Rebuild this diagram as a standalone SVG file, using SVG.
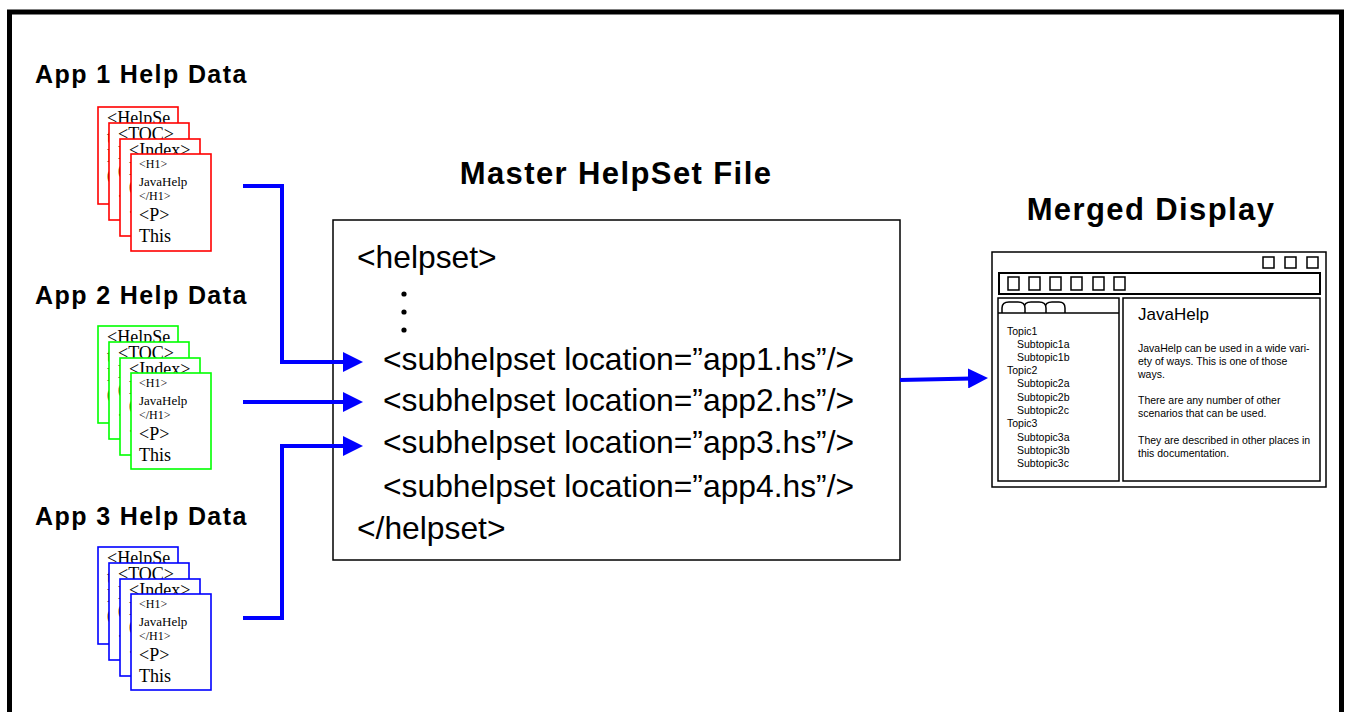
<svg xmlns="http://www.w3.org/2000/svg" width="1345" height="712" viewBox="0 0 1345 712">
<style>
.lbl{font-family:"Liberation Sans",Arial,sans-serif;font-weight:bold;fill:#000}
.app{font-size:25px;letter-spacing:1.4px}
.ttl{font-size:31px;letter-spacing:1.4px}
.code{font-family:"Liberation Sans",Arial,sans-serif;font-size:31.8px;fill:#000}
.pg{fill:#fff;stroke-width:1.6}
.red{stroke:#ff0000}.grn{stroke:#00ff00}.blu{stroke:#0000ff}
.ser{font-family:"Liberation Serif","Times New Roman",serif;fill:#000}
.big{font-size:18px}.sm{font-size:12px}.md{font-size:13px}
.win{fill:#fff;stroke:#000;stroke-width:1.5}
.ui{font-family:"Liberation Sans",Arial,sans-serif;fill:#000}
.t10{font-size:10.5px}
.conn{fill:none;stroke:#0000ff;stroke-width:4}
</style>
<defs>
<marker id="ah" markerUnits="userSpaceOnUse" markerWidth="20" markerHeight="20" refX="4" refY="10" orient="auto">
<path d="M0,0 L20,10 L0,20 Z" fill="#0000ff"/>
</marker>
</defs>
<rect x="0" y="0" width="1345" height="712" fill="#fff"/>
<rect id="frame" x="9.5" y="12" width="1332" height="712" fill="none" stroke="#000" stroke-width="5"/>

<g id="app1">
<text class="lbl app" x="35" y="83">App 1 Help Data</text>
<rect class="pg red" x="98" y="107" width="80" height="97"/>
<text class="ser big" x="107" y="124">&lt;HelpSe</text>
<text class="ser big" x="107" y="143">t</text>
<text class="ser big" x="107" y="162">l</text>
<text class="ser big" x="107" y="183">0</text>
<rect class="pg red" x="109" y="123" width="80" height="97"/>
<text class="ser big" x="118" y="140">&lt;TOC&gt;</text>
<text class="ser big" x="118" y="159">l</text>
<text class="ser big" x="118" y="178">0</text>
<text class="ser big" x="118" y="197">.</text>
<rect class="pg red" x="120" y="139" width="80" height="97"/>
<text class="ser big" x="129" y="156">&lt;Index&gt;</text>
<text class="ser big" x="129" y="175">l</text>
<text class="ser big" x="129" y="194">0</text>
<text class="ser big" x="129" y="213">.</text>
<rect class="pg red" x="131" y="154" width="80" height="97"/>
<text class="ser sm" x="139" y="168">&lt;H1&gt;</text>
<text class="ser md" x="139" y="186">JavaHelp</text>
<text class="ser sm" x="139" y="200">&lt;/H1&gt;</text>
<text class="ser big" x="139" y="221">&lt;P&gt;</text>
<text class="ser big" x="139" y="242">This</text>
</g>

<g id="app2">
<text class="lbl app" x="35" y="304">App 2 Help Data</text>
<rect class="pg grn" x="98" y="326" width="80" height="97"/>
<text class="ser big" x="107" y="343">&lt;HelpSe</text>
<text class="ser big" x="107" y="362">t</text>
<text class="ser big" x="107" y="381">l</text>
<text class="ser big" x="107" y="402">0</text>
<rect class="pg grn" x="109" y="342" width="80" height="97"/>
<text class="ser big" x="118" y="359">&lt;TOC&gt;</text>
<text class="ser big" x="118" y="378">l</text>
<text class="ser big" x="118" y="397">0</text>
<text class="ser big" x="118" y="416">.</text>
<rect class="pg grn" x="120" y="358" width="80" height="97"/>
<text class="ser big" x="129" y="375">&lt;Index&gt;</text>
<text class="ser big" x="129" y="394">l</text>
<text class="ser big" x="129" y="413">0</text>
<text class="ser big" x="129" y="432">.</text>
<rect class="pg grn" x="131" y="373" width="80" height="96"/>
<text class="ser sm" x="139" y="387">&lt;H1&gt;</text>
<text class="ser md" x="139" y="405">JavaHelp</text>
<text class="ser sm" x="139" y="419">&lt;/H1&gt;</text>
<text class="ser big" x="139" y="440">&lt;P&gt;</text>
<text class="ser big" x="139" y="461">This</text>
</g>

<g id="app3">
<text class="lbl app" x="35" y="525">App 3 Help Data</text>
<rect class="pg blu" x="98" y="547" width="80" height="97"/>
<text class="ser big" x="107" y="564">&lt;HelpSe</text>
<text class="ser big" x="107" y="583">t</text>
<text class="ser big" x="107" y="602">l</text>
<text class="ser big" x="107" y="623">0</text>
<rect class="pg blu" x="109" y="563" width="80" height="97"/>
<text class="ser big" x="118" y="580">&lt;TOC&gt;</text>
<text class="ser big" x="118" y="599">l</text>
<text class="ser big" x="118" y="618">0</text>
<text class="ser big" x="118" y="637">.</text>
<rect class="pg blu" x="120" y="579" width="80" height="97"/>
<text class="ser big" x="129" y="596">&lt;Index&gt;</text>
<text class="ser big" x="129" y="615">l</text>
<text class="ser big" x="129" y="634">0</text>
<text class="ser big" x="129" y="653">.</text>
<rect class="pg blu" x="131" y="594" width="80" height="96"/>
<text class="ser sm" x="139" y="608">&lt;H1&gt;</text>
<text class="ser md" x="139" y="626">JavaHelp</text>
<text class="ser sm" x="139" y="640">&lt;/H1&gt;</text>
<text class="ser big" x="139" y="661">&lt;P&gt;</text>
<text class="ser big" x="139" y="682">This</text>
</g>

<g id="master">
<text class="lbl ttl" x="616" y="184" text-anchor="middle">Master HelpSet File</text>
<rect x="333" y="220" width="567" height="340" fill="#fff" stroke="#000" stroke-width="1.5"/>
<text class="code" x="357" y="268">&lt;helpset&gt;</text>
<circle cx="404" cy="294" r="2.6" fill="#000"/>
<circle cx="404" cy="312" r="2.6" fill="#000"/>
<circle cx="404" cy="330" r="2.6" fill="#000"/>
<text class="code" x="383" y="370">&lt;subhelpset location=”app1.hs”/&gt;</text>
<text class="code" x="383" y="411">&lt;subhelpset location=”app2.hs”/&gt;</text>
<text class="code" x="383" y="453">&lt;subhelpset location=”app3.hs”/&gt;</text>
<text class="code" x="383" y="497">&lt;subhelpset location=”app4.hs”/&gt;</text>
<text class="code" x="357" y="539">&lt;/helpset&gt;</text>
</g>

<g id="merged">
<text class="lbl ttl" x="1151" y="220" text-anchor="middle">Merged Display</text>
<rect class="win" x="992" y="252" width="334" height="235"/>
<rect class="win" x="1263" y="257" width="11" height="11"/>
<rect class="win" x="1285" y="257" width="11" height="11"/>
<rect class="win" x="1307" y="257" width="11" height="11"/>
<rect x="999" y="273" width="321" height="21" fill="#fff" stroke="#000" stroke-width="2"/>
<rect class="win" x="1008" y="277" width="11" height="13"/>
<rect class="win" x="1029" y="277" width="11" height="13"/>
<rect class="win" x="1050" y="277" width="11" height="13"/>
<rect class="win" x="1071" y="277" width="11" height="13"/>
<rect class="win" x="1093" y="277" width="11" height="13"/>
<rect class="win" x="1114" y="277" width="11" height="13"/>
<rect class="win" x="998" y="298" width="121" height="183"/>
<path class="win" d="M1045,313 V308 Q1045,302 1052,302 H1059 Q1065,302 1065,308 V313"/>
<path class="win" d="M1024,313 V308 Q1024,302 1031,302 H1039 Q1046,302 1046,308 V313"/>
<path class="win" d="M1002,313 V308 Q1002,302 1009,302 H1018 Q1025,302 1025,308 V313"/>
<line x1="998" y1="313" x2="1119" y2="313" stroke="#000" stroke-width="1.5"/>
<text class="ui t10" x="1007" y="335">Topic1</text>
<text class="ui t10" x="1017" y="348">Subtopic1a</text>
<text class="ui t10" x="1017" y="361">Subtopic1b</text>
<text class="ui t10" x="1007" y="374">Topic2</text>
<text class="ui t10" x="1017" y="387">Subtopic2a</text>
<text class="ui t10" x="1017" y="401">Subtopic2b</text>
<text class="ui t10" x="1017" y="414">Subtopic2c</text>
<text class="ui t10" x="1007" y="427">Topic3</text>
<text class="ui t10" x="1017" y="441">Subtopic3a</text>
<text class="ui t10" x="1017" y="454">Subtopic3b</text>
<text class="ui t10" x="1017" y="467">Subtopic3c</text>
<rect class="win" x="1123" y="298" width="197" height="183"/>
<text class="ui" x="1138" y="320" font-size="17">JavaHelp</text>
<text class="ui t10" x="1138" y="352">JavaHelp can be used in a wide vari-</text>
<text class="ui t10" x="1138" y="365">ety of ways.  This is one of those</text>
<text class="ui t10" x="1138" y="378">ways.</text>
<text class="ui t10" x="1138" y="404">There are any number of other</text>
<text class="ui t10" x="1138" y="417">scenarios that can be used.</text>
<text class="ui t10" x="1138" y="444">They are described in other places in</text>
<text class="ui t10" x="1138" y="457">this documentation.</text>
</g>

<g id="connectors">
<path class="conn" d="M243,186 H282 V362 H347" marker-end="url(#ah)"/>
<path class="conn" d="M243,402 H347" marker-end="url(#ah)"/>
<path class="conn" d="M243,618 H282 V446 H347" marker-end="url(#ah)"/>
<path class="conn" d="M900,380 L972,378.4" marker-end="url(#ah)"/>
</g>
</svg>
